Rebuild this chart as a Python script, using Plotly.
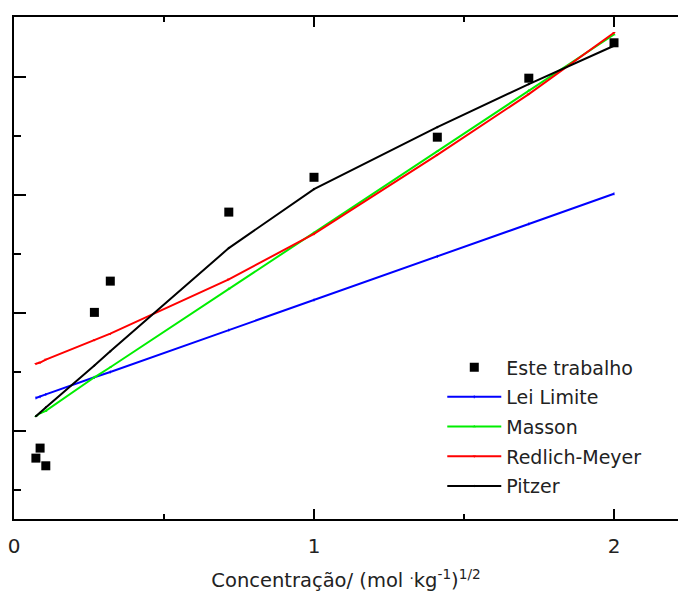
import plotly.graph_objects as go

# Experimental data (sqrt(m), y) - y axis has no labels in the reference
x_exp = [0.073, 0.087, 0.106, 0.268, 0.321, 0.716, 1.0, 1.411, 1.716, 2.0]
y_exp = [1.54, 1.71, 1.41, 4.01, 4.54, 5.71, 6.30, 6.98, 7.98, 8.58]

# Model curves evaluated at the same abscissas
x_mod = [0.073, 0.087, 0.106, 0.268, 0.321, 0.716, 1.0, 1.411, 1.716, 2.0]
y_lei = [2.56, 2.58, 2.62, 2.91, 3.00, 3.71, 4.22, 4.96, 5.51, 6.02]
y_masson = [2.25, 2.30, 2.34, 2.91, 3.08, 4.41, 5.36, 6.74, 7.77, 8.72]
y_redlich = [3.14, 3.16, 3.21, 3.54, 3.65, 4.57, 5.34, 6.68, 7.71, 8.75]
y_pitzer = [2.25, 2.31, 2.40, 3.11, 3.35, 5.10, 6.10, 7.15, 7.88, 8.53]

x_ticks = [0, 1, 2]
x_ticklabels = ["0", "1", "2"]

FONT = "DejaVu Sans"

fig = go.Figure()
fig.add_trace(go.Scatter(x=x_exp, y=y_exp, mode="markers", name="Este trabalho",
                         legendgroup="g1",
                         marker=dict(symbol="square", size=9, color="black")))
fig.add_trace(go.Scatter(x=x_mod, y=y_lei, mode="lines+markers", name="Lei Limite",
                         legendgroup="g2",
                         line=dict(color="#0000ff", width=2),
                         marker=dict(symbol="line-ns", size=2, color="#0000ff",
                                     line=dict(color="#0000ff", width=1))))
fig.add_trace(go.Scatter(x=x_mod, y=y_masson, mode="lines+markers", name="Masson",
                         legendgroup="g3",
                         line=dict(color="#00ee00", width=2),
                         marker=dict(symbol="triangle-up", size=3, color="#00ee00")))
fig.add_trace(go.Scatter(x=x_mod, y=y_redlich, mode="lines+markers", name="Redlich-Meyer",
                         legendgroup="g4",
                         line=dict(color="#ff0000", width=2),
                         marker=dict(symbol="triangle-down", size=3, color="#ff0000")))
fig.add_trace(go.Scatter(x=x_mod, y=y_pitzer, mode="lines+markers", name="Pitzer",
                         legendgroup="g5",
                         line=dict(color="black", width=2),
                         marker=dict(symbol="diamond", size=2, color="black")))

fig.update_layout(
    width=678, height=592,
    margin=dict(l=14, r=0, t=17, b=73),
    paper_bgcolor="white", plot_bgcolor="white",
    font=dict(family=FONT, size=19, color="#222222"),
    showlegend=True,
    legend=dict(x=0.645, y=0.34, xanchor="left", yanchor="top",
                bgcolor="rgba(0,0,0,0)", font=dict(size=19, family=FONT),
                itemwidth=54, traceorder="grouped", tracegroupgap=2),
    xaxis=dict(range=[0, 2.2133], tickvals=x_ticks, ticktext=x_ticklabels,
               ticks="inside", ticklen=10, tickwidth=2, tickcolor="black",
               showline=True, linecolor="black", linewidth=2, mirror="allticks",
               showgrid=False, zeroline=False, ticklabelstandoff=8,
               tickfont=dict(size=20, family=FONT),
               minor=dict(tickvals=[0.5, 1.5], ticks="inside", ticklen=5,
                          tickwidth=2, tickcolor="black", showgrid=False),
               title=dict(text="Concentração/ (mol <sup>.</sup>kg<sup>-1</sup>)<sup>1/2</sup>",
                          font=dict(size=19.5, family=FONT), standoff=17)),
    yaxis=dict(range=[0.508, 9.017], tickvals=[2, 4, 6, 8],
               ticks="inside", ticklen=12, tickwidth=2, tickcolor="black",
               showticklabels=False,
               showline=True, linecolor="black", linewidth=2, mirror=False,
               showgrid=False, zeroline=False,
               minor=dict(tickvals=[1, 3, 5, 7], ticks="inside", ticklen=7,
                          tickwidth=2, tickcolor="black", showgrid=False)),
)

fig.write_html("out.html")
